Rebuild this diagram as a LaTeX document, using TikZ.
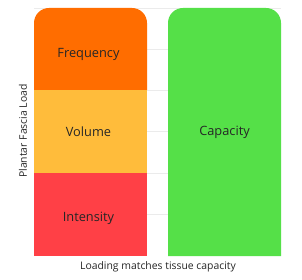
\documentclass[tikz,border=0pt]{standalone}
\usepackage{fontspec}
\setmainfont{Open Sans}
\begin{document}
\begin{tikzpicture}[x=1pt,y=-1pt,
  grid/.style={draw=black!8, line width=0.6pt},
  barlabel/.style={font=\fontsize{12.8}{15}\selectfont, text=black!85},
  axislabel/.style={font=\fontsize{10.4}{12}\selectfont, text=black!85}]
\definecolor{cfreq}{HTML}{FF6D00}
\definecolor{cvol}{HTML}{FFBC3B}
\definecolor{cint}{HTML}{FF4046}
\definecolor{ccap}{HTML}{55E048}
\useasboundingbox (0,0) rectangle (302,280);
\fill[white] (0,0) rectangle (302,280);
% grid lines
\foreach \y in {8,49,90,131,173,214} \draw[grid] (34,\y) -- (281,\y);
% left stacked bar
\fill[cfreq] (34,90) -- (34,23) arc[start angle=180,end angle=90,radius=15pt] -- (132,8) arc[start angle=90,end angle=0,radius=15pt] -- (147,90) -- cycle;
\fill[cvol] (34,90) rectangle (147,173);
\fill[cint] (34,173) rectangle (147,256);
% right bar
\fill[ccap] (168,256) -- (168,23) arc[start angle=180,end angle=90,radius=15pt] -- (266,8) arc[start angle=90,end angle=0,radius=15pt] -- (281,256) -- cycle;
\node[barlabel] (freq) at (88.5,54) {Frequency};
\node[barlabel] (vol) at (88.5,132) {Volume};
\node[barlabel] (int) at (88.5,218) {Intensity};
\node[barlabel] (cap) at (224.5,132) {Capacity};
\node[axislabel, rotate=90] (ylab) at (23,131) {Plantar Fascia Load};
\node[axislabel] (xlab) at (158,267) {Loading matches tissue capacity};
\end{tikzpicture}
\end{document}
